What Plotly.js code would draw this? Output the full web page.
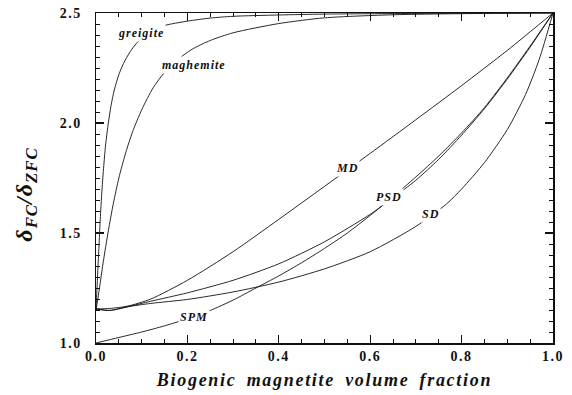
<!DOCTYPE html>
<html>
<head>
<meta charset="utf-8">
<script src="https://cdn.plot.ly/plotly-3.0.1.min.js"></script>
<style>
  html, body { margin: 0; padding: 0; background: #fff; }
  #chart { width: 572px; height: 395px; }
  .xtitle { letter-spacing: 1.7px; word-spacing: 4px; }
  .annotation-text { letter-spacing: 1px; }
  .xtick text, .ytick text { letter-spacing: 1.5px; }
</style>
</head>
<body>
<div id="chart"></div>
<script>
// Ratio of field-cooled to zero-field-cooled remanence loss versus biogenic magnetite fraction
const greigiteX  = [0, 0.002, 0.004, 0.0065, 0.009, 0.012, 0.016, 0.021, 0.027, 0.033, 0.04, 0.05, 0.06, 0.075, 0.092, 0.12, 0.15, 0.2, 0.25, 0.3, 0.4, 0.5, 0.7, 1];
const greigiteY  = [1.15, 1.24, 1.33, 1.44, 1.55, 1.66, 1.78, 1.90, 2.0, 2.08, 2.15, 2.22, 2.27, 2.325, 2.37, 2.415, 2.443, 2.463, 2.477, 2.485, 2.491, 2.495, 2.498, 2.5];

const maghemiteX = [0, 0.004, 0.009, 0.016, 0.027, 0.038, 0.05, 0.065, 0.08, 0.1, 0.125, 0.15, 0.18, 0.21, 0.25, 0.3, 0.4, 0.5, 0.65, 0.8, 1];
const maghemiteY = [1.15, 1.2, 1.27, 1.37, 1.51, 1.635, 1.75, 1.865, 1.96, 2.06, 2.16, 2.23, 2.29, 2.335, 2.375, 2.41, 2.452, 2.478, 2.492, 2.497, 2.5];

const mdX  = [0, 0.03, 0.07, 0.12, 0.2, 0.3, 0.4, 0.5, 0.6, 0.7, 0.8, 0.9, 1];
const mdY  = [1.155, 1.157, 1.168, 1.2, 1.285, 1.415, 1.562, 1.712, 1.862, 2.015, 2.17, 2.33, 2.5];

const psdX = [0, 0.03, 0.07, 0.12, 0.2, 0.3, 0.4, 0.5, 0.6, 0.65, 0.7, 0.75, 0.8, 0.85, 0.9, 0.95, 1];
const psdY = [1.155, 1.148, 1.165, 1.19, 1.228, 1.285, 1.36, 1.46, 1.585, 1.66, 1.74, 1.835, 1.945, 2.065, 2.2, 2.345, 2.5];

const sdX  = [0, 0.03, 0.07, 0.12, 0.2, 0.3, 0.4, 0.5, 0.6, 0.7, 0.767, 0.8, 0.85, 0.9, 0.94, 0.97, 1];
const sdY  = [1.155, 1.148, 1.165, 1.18, 1.198, 1.232, 1.277, 1.337, 1.415, 1.53, 1.632, 1.70, 1.82, 1.97, 2.13, 2.29, 2.5];

const spmX = [0, 0.05, 0.1, 0.15, 0.2, 0.25, 0.3, 0.35, 0.4, 0.45, 0.5, 0.55, 0.6, 0.65, 0.7, 0.75, 0.8, 0.85, 0.9, 0.95, 1];
const spmY = [1.0, 1.025, 1.05, 1.078, 1.11, 1.148, 1.195, 1.25, 1.305, 1.365, 1.43, 1.50, 1.58, 1.665, 1.755, 1.85, 1.955, 2.07, 2.205, 2.35, 2.5];

// Curve labels and their anchor points
const labelText = ['greigite', 'maghemite', 'MD', 'PSD', 'SD', 'SPM'];
const labelX    = [0.098, 0.214, 0.550, 0.641, 0.733, 0.215];
const labelY    = [2.41, 2.265, 1.795, 1.664, 1.586, 1.118];

const serif = 'Liberation Serif, Times New Roman, serif';
const ink = '#111';
const lineStyle = { color: ink, width: 0.9, shape: 'spline', smoothing: 0.7 };

function curve(x, y) {
  return { x: x, y: y, type: 'scatter', mode: 'lines', line: lineStyle, hoverinfo: 'skip', showlegend: false };
}

const traces = [
  curve(greigiteX, greigiteY),
  curve(maghemiteX, maghemiteY),
  curve(mdX, mdY),
  curve(psdX, psdY),
  curve(sdX, sdY),
  curve(spmX, spmY)
];

const annotations = labelText.map((t, i) => ({
  x: labelX[i], y: labelY[i], xref: 'x', yref: 'y',
  text: t, showarrow: false, bgcolor: '#fff', borderpad: 1,
  font: { family: serif, size: 12, color: ink, weight: 'bold', style: 'italic' }
}));

// y-axis title, placed slightly below the plot's vertical centre
annotations.push({
  xref: 'paper', yref: 'paper', x: -0.155, y: 0.45, xanchor: 'center', yanchor: 'middle',
  text: 'δ<sub>FC</sub>/δ<sub>ZFC</sub>', textangle: -90, showarrow: false,
  font: { family: serif, size: 24, color: ink, weight: 'bold', style: 'italic' }
});

const axisCommon = {
  showline: true, linecolor: ink, linewidth: 1.5, mirror: 'allticks',
  tickmode: 'linear', ticks: 'inside', ticklen: 8, tickwidth: 1.3, tickcolor: ink,
  showgrid: false, zeroline: false, fixedrange: true,
  tickfont: { family: serif, size: 14, color: ink, weight: 'bold' }
};

const layout = {
  width: 572, height: 395,
  margin: { l: 96, r: 19, t: 13, b: 52 },
  paper_bgcolor: '#fff', plot_bgcolor: '#fff',
  xaxis: Object.assign({}, axisCommon, {
    range: [0, 1], tick0: 0, dtick: 0.2, tickformat: '.1f',
    minor: { ticks: 'inside', ticklen: 4, tickwidth: 1, tickcolor: ink, dtick: 0.05 },
    title: { text: 'Biogenic magnetite volume fraction', standoff: 10,
      font: { family: serif, size: 18, color: ink, weight: 'bold', style: 'italic' } }
  }),
  yaxis: Object.assign({}, axisCommon, {
    range: [1, 2.5], tick0: 1, dtick: 0.5, tickformat: '.1f', ticksuffix: '\u00a0\u00a0',
    minor: { ticks: 'inside', ticklen: 4, tickwidth: 1, tickcolor: ink, dtick: 0.05 }
  }),
  annotations: annotations
};

Plotly.newPlot('chart', traces, layout, { staticPlot: true, displayModeBar: false });
</script>
</body>
</html>
